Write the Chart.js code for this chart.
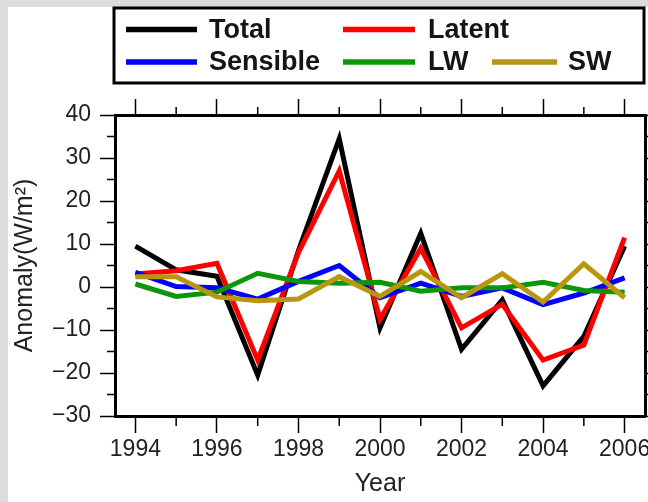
<!DOCTYPE html>
<html>
<head>
<meta charset="utf-8">
<script src="https://cdn.jsdelivr.net/npm/chart.js@4"></script>
<style>
  body { margin: 0; background: #dcdcdc; }
  canvas { display: block; }
</style>
</head>
<body>
<canvas id="myChart" width="648" height="502"></canvas>
<script>
var years = [1994, 1995, 1996, 1997, 1998, 1999, 2000, 2001, 2002, 2003, 2004, 2005, 2006];
var total    = [9.5, 4.0, 2.5, -20.5, 8.5, 34.5, -9.5, 12.5, -14.5, -3.0, -23.0, -11.5, 9.5];
var latent   = [3.0, 3.8, 5.5, -17.0, 8.0, 27.0, -7.5, 9.0, -9.5, -4.0, -17.0, -13.5, 11.5];
var sensible = [3.4, 0.1, -0.2, -2.8, 1.3, 5.0, -2.5, 0.9, -2.2, -0.2, -4.1, -1.4, 2.1];
var lw       = [0.7, -2.2, -1.2, 3.2, 1.3, 0.9, 1.1, -1.0, -0.2, -0.2, 1.1, -0.8, -1.2];
var sw       = [2.4, 2.4, -2.3, -3.2, -2.8, 2.4, -2.2, 3.6, -2.5, 3.1, -3.5, 5.4, -2.5];

var xMajor = [1994, 1996, 1998, 2000, 2002, 2004, 2006];
var yMajor = [-30, -20, -10, 0, 10, 20, 30, 40];
var yMinor = [-25, -15, -5, 5, 15, 25, 35];

var FONT = 'Liberation Sans, Arial, sans-serif';

function points(vals) {
    return years.map(function (yr, i) { return { x: yr, y: vals[i] }; });
}

function line(label, vals, color, order) {
    return {
        label: label,
        data: points(vals),
        borderColor: color,
        backgroundColor: color,
        borderWidth: 5,
        borderJoinStyle: 'miter',
        pointRadius: 0,
        tension: 0,
        fill: false,
        order: order
    };
}

// grey frame round the white panel
var background = {
    id: 'background',
    beforeDraw: function (chart) {
        var ctx = chart.ctx;
        ctx.save();
        ctx.fillStyle = '#dcdcdc';
        ctx.fillRect(0, 0, chart.width, chart.height);
        ctx.fillStyle = '#ffffff';
        ctx.fillRect(8, 7, chart.width - 8, chart.height - 7);
        ctx.restore();
    }
};

// short ticks at odd years and at the fives
var minorTicks = {
    id: 'minorTicks',
    afterDraw: function (chart) {
        var ctx = chart.ctx, a = chart.chartArea;
        var xs = chart.scales.x, ys = chart.scales.y;
        ctx.save();
        ctx.strokeStyle = '#000';
        ctx.lineWidth = 1.5;
        ctx.beginPath();
        years.forEach(function (yr) {
            if (xMajor.indexOf(yr) >= 0) return;
            var px = xs.getPixelForValue(yr);
            ctx.moveTo(px, a.bottom); ctx.lineTo(px, a.bottom + 10);
            ctx.moveTo(px, a.top); ctx.lineTo(px, a.top - 8);
        });
        yMinor.forEach(function (v) {
            var py = ys.getPixelForValue(v);
            ctx.moveTo(a.left, py); ctx.lineTo(a.left - 8, py);
            ctx.moveTo(a.right, py); ctx.lineTo(a.right + 4, py);
        });
        ctx.stroke();
        ctx.restore();
    }
};

// boxed legend in two rows: [line start, line end, text x, y]
var legendSlots = [
    [126, 197, 209, 29.5],
    [343, 415, 428, 29.5],
    [126, 197, 209, 62],
    [343, 415, 428, 62],
    [492, 557, 568, 62]
];

var boxLegend = {
    id: 'boxLegend',
    afterDraw: function (chart) {
        var ctx = chart.ctx;
        ctx.save();
        ctx.fillStyle = '#fff';
        ctx.fillRect(114, 8, 530, 75);
        ctx.strokeStyle = '#000';
        ctx.lineWidth = 3;
        ctx.strokeRect(114, 8, 530, 75);
        ctx.font = 'bold 27px ' + FONT;
        ctx.textBaseline = 'middle';
        ctx.textAlign = 'left';
        chart.data.datasets.forEach(function (ds, i) {
            var s = legendSlots[i];
            ctx.strokeStyle = ds.borderColor;
            ctx.lineWidth = 5.5;
            ctx.lineCap = 'butt';
            ctx.beginPath();
            ctx.moveTo(s[0], s[3]);
            ctx.lineTo(s[1], s[3]);
            ctx.stroke();
            ctx.fillStyle = '#151515';
            ctx.fillText(ds.label, s[2], s[3] + 1);
        });
        ctx.restore();
    }
};

function setXTicks(axis) {
    axis.ticks = xMajor.map(function (v) { return { value: v }; });
}
function setYTicks(axis) {
    axis.ticks = yMajor.map(function (v) { return { value: v }; });
}

var tickGrid = function (len) {
    return { drawOnChartArea: false, tickLength: len, tickColor: '#000', tickWidth: 1.5 };
};
var frame = { display: true, color: '#000', width: 3 };

var ctx = document.getElementById('myChart');
var myChart = new Chart(ctx, {
    type: 'line',
    data: {
        datasets: [
            line('Total', total, '#000000', 5),
            line('Latent', latent, '#ff0000', 4),
            line('Sensible', sensible, '#0000ff', 3),
            line('LW', lw, '#0c960c', 2),
            line('SW', sw, '#b8960f', 1)
        ]
    },
    options: {
        responsive: false,
        animation: false,
        layout: { padding: { left: 8, top: 99, right: 0, bottom: 0 } },
        plugins: {
            legend: { display: false },
            tooltip: { enabled: false }
        },
        scales: {
            x: {
                type: 'linear',
                position: 'bottom',
                min: 1993.5,
                max: 2006.5,
                afterBuildTicks: setXTicks,
                afterFit: function (axis) {
                    axis.height = 86;
                    axis.paddingLeft = 0;
                    axis.paddingRight = 0;
                },
                grid: tickGrid(17),
                border: frame,
                ticks: {
                    font: { family: FONT, size: 23 },
                    color: '#222',
                    padding: 3,
                    maxRotation: 0,
                    autoSkip: false,
                    callback: function (v) { return String(v); }
                },
                title: {
                    display: true,
                    text: 'Year',
                    font: { family: FONT, size: 25 },
                    color: '#222',
                    padding: { top: 0, bottom: 3 }
                }
            },
            xTop: {
                type: 'linear',
                position: 'top',
                min: 1993.5,
                max: 2006.5,
                afterBuildTicks: setXTicks,
                afterFit: function (axis) {
                    axis.height = 16;
                    axis.paddingLeft = 0;
                    axis.paddingRight = 0;
                },
                grid: tickGrid(16),
                border: frame,
                ticks: { display: false }
            },
            y: {
                type: 'linear',
                position: 'left',
                min: -30,
                max: 40,
                afterBuildTicks: setYTicks,
                afterFit: function (axis) {
                    axis.width = 107;
                    axis.paddingTop = 0;
                    axis.paddingBottom = 0;
                },
                grid: tickGrid(15),
                border: frame,
                ticks: {
                    font: { family: FONT, size: 23 },
                    color: '#222',
                    padding: 9,
                    callback: function (v) { return String(v).replace('-', '\u2212'); }
                },
                title: {
                    display: true,
                    text: 'Anomaly(W/m\u00b2)',
                    font: { family: FONT, size: 25 },
                    color: '#222',
                    padding: { top: 2, bottom: 0 }
                }
            },
            y2: {
                type: 'linear',
                position: 'right',
                min: -30,
                max: 40,
                afterBuildTicks: setYTicks,
                afterFit: function (axis) {
                    axis.width = 3;
                    axis.paddingTop = 0;
                    axis.paddingBottom = 0;
                },
                grid: tickGrid(3),
                border: frame,
                ticks: { display: false }
            }
        }
    },
    plugins: [background, minorTicks, boxLegend]
});
</script>
</body>
</html>
